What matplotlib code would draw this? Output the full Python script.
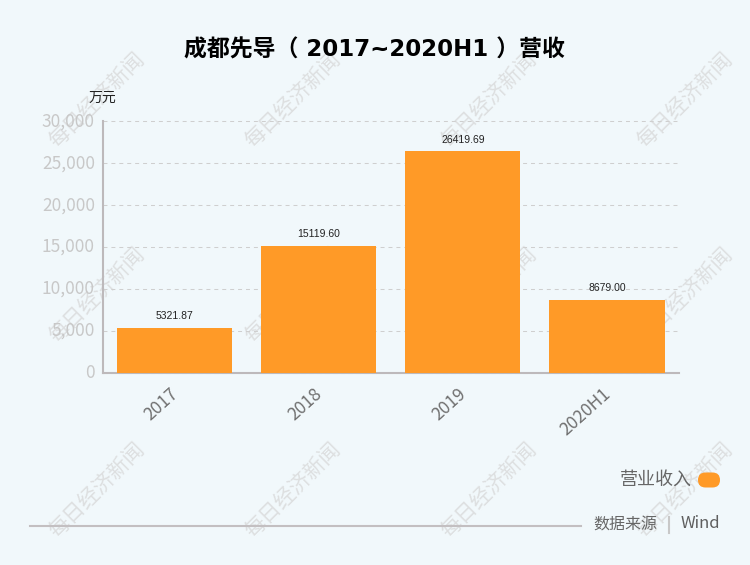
import matplotlib
matplotlib.use('Agg')
import matplotlib.pyplot as plt
from matplotlib.patches import FancyBboxPatch
from matplotlib.ticker import FuncFormatter
from matplotlib.transforms import ScaledTranslation

plt.rcParams['font.family'] = ['Noto Sans CJK SC', 'DejaVu Sans']

categories = ['2017', '2018', '2019', '2020H1']
revenue = [5321.87, 15119.60, 26419.69, 8679.00]
yticks = [0, 5000, 10000, 15000, 20000, 25000, 30000]
title = '成都先导（ 2017~2020H1 ）营收'
series_name = '营业收入'

W, H = 750, 565
bg = '#f1f8fb'
orange = '#ff9a27'

fig = plt.figure(figsize=(W / 100, H / 100), dpi=100, facecolor=bg)

# watermark goes first so the bars cover it
wm = fig.add_axes([0, 0, 1, 1], zorder=0)
wm.set_xlim(0, W)
wm.set_ylim(H, 0)
wm.axis('off')
for x in [97, 293, 489, 685]:
    for y in [100, 295, 490]:
        wm.text(x, y, '每日经济新闻', rotation=45, ha='center', va='center', fontsize=15,
                color='#dddfe0', fontweight='medium')

# axes placed in pixel positions of the reference
left, right, top, bottom = 102.5, 679, 121.5, 372.5
ax = fig.add_axes([left / W, 1 - bottom / H, (right - left) / W, (bottom - top) / H], zorder=1)
ax.set_facecolor('none')

ax.bar(range(len(categories)), revenue, width=0.8, color=orange, zorder=3)
for i, v in enumerate(revenue):
    ax.annotate('%.2f' % v, (i, v), xytext=(0, 5), textcoords='offset points',
                ha='center', va='bottom', fontsize=7.5, color='#222222', zorder=4,
                family=['Liberation Sans'])

ax.set_xlim(-0.5, 3.5)
ax.set_ylim(0, 30000)
ax.set_yticks(yticks)
ax.yaxis.set_major_formatter(FuncFormatter(lambda v, p: format(int(v), ',')))
ax.set_xticks(range(len(categories)))
ax.set_xticklabels(categories, rotation=42, ha='right', rotation_mode='anchor')
ax.tick_params(axis='y', length=0, pad=5.5, labelsize=12.5, labelcolor='#c8c8c8')
ax.tick_params(axis='x', length=0, pad=9, labelsize=12.5, labelcolor='#707070')
ax.grid(axis='y', color='#cfcfcf', linestyle=(0, (3.8, 3.8)), linewidth=0.75, zorder=1)
for line in ax.get_ygridlines():
    line.set_clip_on(False)
for s in ['top', 'right']:
    ax.spines[s].set_visible(False)
for s in ['left', 'bottom']:
    ax.spines[s].set_color('#bdb9bb')
    ax.spines[s].set_linewidth(1.5)

# nudge tick labels to where the reference has them
shift_x = ScaledTranslation(-3.6 / 72, 0, fig.dpi_scale_trans)
shift_y = ScaledTranslation(0, 1.4 / 72, fig.dpi_scale_trans)
for lab in ax.get_xticklabels():
    lab.set_transform(lab.get_transform() + shift_x)
for lab in ax.get_yticklabels():
    lab.set_transform(lab.get_transform() + shift_y)

# full figure overlay in pixels
ov = fig.add_axes([0, 0, 1, 1], zorder=2)
ov.set_xlim(0, W)
ov.set_ylim(H, 0)
ov.axis('off')

ov.text(374.5, 50, title, ha='center', va='center', fontsize=16.5, fontweight='bold', color='black',
        family=['DejaVu Sans', 'Noto Sans CJK SC'])
ov.text(102, 98, '万元', ha='center', va='center', fontsize=10, color='#222222')

# legend
ov.text(692, 480, series_name, ha='right', va='center', fontsize=13, color='#666666')
ov.add_patch(FancyBboxPatch((698, 472.5), 22, 15, boxstyle='round,pad=0,rounding_size=7.5',
                            linewidth=0, facecolor=orange))

# footer
ov.plot([30, 581], [525.5, 525.5], color='#c3bfc1', linewidth=1.5)
ov.text(593, 525, '数据来源', ha='left', va='center', fontsize=11.5, color='#666666')
ov.plot([668.5, 668.5], [517, 533], color='#c8c8c8', linewidth=1.5)
ov.text(720, 524, 'Wind', ha='right', va='center', fontsize=12, color='#5f5f5f', fontweight='medium')

fig.savefig('out.png', dpi=100, facecolor=bg)
